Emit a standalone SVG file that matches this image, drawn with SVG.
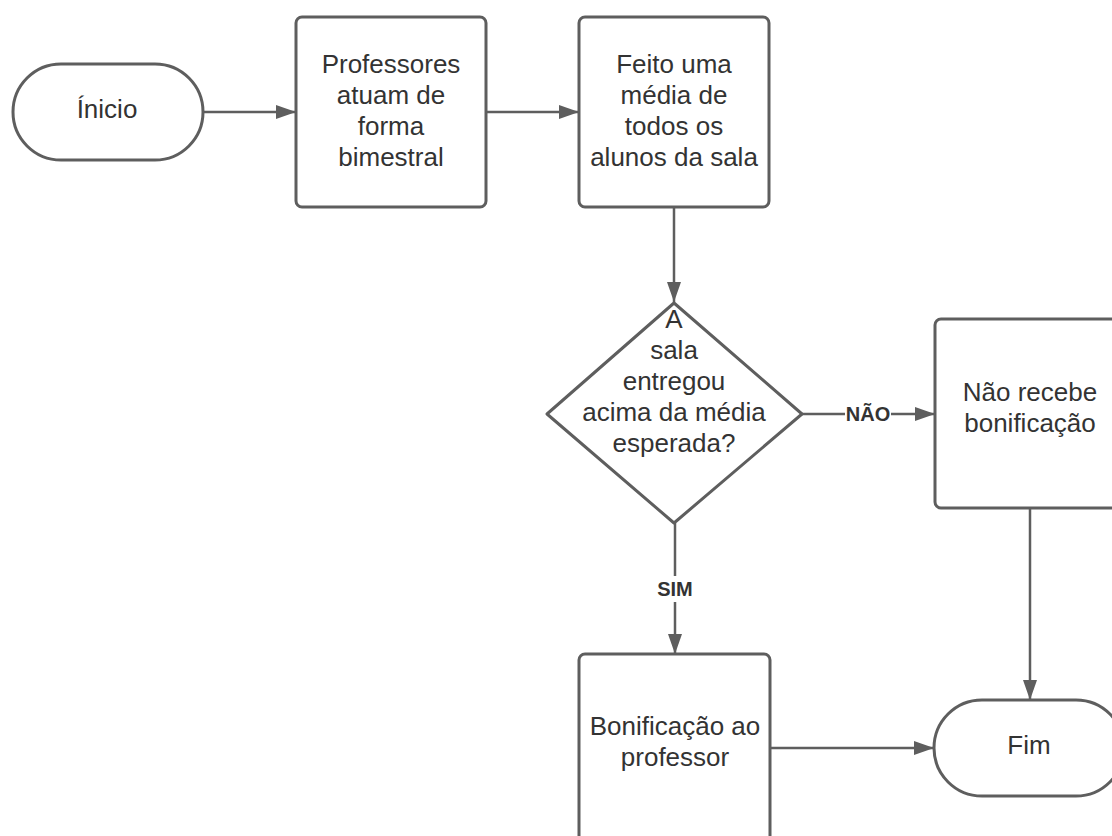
<svg xmlns="http://www.w3.org/2000/svg" width="1112" height="836" viewBox="0 0 1112 836">
  <defs>
    <marker id="arrow" viewBox="0 0 20 14" refX="20" refY="7" markerWidth="20" markerHeight="14" markerUnits="userSpaceOnUse" orient="auto">
      <path d="M0,0 L20,7 L0,14 Z" fill="#5e5e5e"/>
    </marker>
  </defs>
  <style>
    .shape { fill: #ffffff; stroke: #5e5e5e; stroke-width: 3; stroke-linejoin: round; }
    .conn { fill: none; stroke: #5e5e5e; stroke-width: 2.5; }
    .txt { font-family: "Liberation Sans", Arial, sans-serif; font-size: 26px; fill: #333333; text-anchor: middle; }
    .lbl { font-family: "Liberation Sans", Arial, sans-serif; font-size: 20px; font-weight: bold; fill: #333333; text-anchor: middle; }
    .bg { fill: #ffffff; }
  </style>
  <rect width="1112" height="836" fill="#ffffff"/>

  <g id="connectors">
    <path class="conn" d="M203,112 L296,112" marker-end="url(#arrow)"/>
    <path class="conn" d="M486,112 L579,112" marker-end="url(#arrow)"/>
    <path class="conn" d="M674,207 L674,302" marker-end="url(#arrow)"/>
    <path class="conn" d="M802,414 L935,414" marker-end="url(#arrow)"/>
    <path class="conn" d="M675,523 L675,654" marker-end="url(#arrow)"/>
    <path class="conn" d="M1030,508 L1030,700" marker-end="url(#arrow)"/>
    <path class="conn" d="M770,748 L934,748" marker-end="url(#arrow)"/>
    <g id="label-nao">
      <rect class="bg" x="845" y="404" width="46" height="20"/>
      <text class="lbl" x="868" y="421">NÃO</text>
    </g>
    <g id="label-sim">
      <rect class="bg" x="656" y="576" width="38" height="26"/>
      <text class="lbl" x="675" y="596">SIM</text>
    </g>
  </g>

  <g id="inicio">
    <rect class="shape" x="13" y="64" width="190" height="96" rx="48" ry="48"/>
    <text class="txt" x="107" y="118">Ínicio</text>
  </g>

  <g id="professores">
    <rect class="shape" x="296" y="17" width="190" height="190" rx="6" ry="6"/>
    <text class="txt" x="391" y="73">Professores</text>
    <text class="txt" x="391" y="104">atuam de</text>
    <text class="txt" x="391" y="135">forma</text>
    <text class="txt" x="391" y="166">bimestral</text>
  </g>

  <g id="feito">
    <rect class="shape" x="579" y="17" width="190" height="190" rx="6" ry="6"/>
    <text class="txt" x="674" y="73">Feito uma</text>
    <text class="txt" x="674" y="104">média de</text>
    <text class="txt" x="674" y="135">todos os</text>
    <text class="txt" x="674" y="166">alunos da sala</text>
  </g>

  <g id="decisao">
    <path class="shape" d="M674,303 L802,414 L674,523 L547,414 Z"/>
    <text class="txt" x="674" y="328">A</text>
    <text class="txt" x="674" y="359">sala</text>
    <text class="txt" x="674" y="390">entregou</text>
    <text class="txt" x="674" y="421">acima da média</text>
    <text class="txt" x="674" y="452">esperada?</text>
  </g>

  <g id="nao-recebe">
    <rect class="shape" x="935" y="319" width="190" height="189" rx="6" ry="6"/>
    <text class="txt" x="1030" y="401">Não recebe</text>
    <text class="txt" x="1030" y="432">bonificação</text>
  </g>

  <g id="bonificacao">
    <rect class="shape" x="579" y="654" width="191" height="190" rx="6" ry="6"/>
    <text class="txt" x="675" y="735">Bonificação ao</text>
    <text class="txt" x="675" y="766">professor</text>
  </g>

  <g id="fim">
    <rect class="shape" x="934" y="700" width="190" height="96" rx="48" ry="48"/>
    <text class="txt" x="1029" y="754">Fim</text>
  </g>
</svg>
